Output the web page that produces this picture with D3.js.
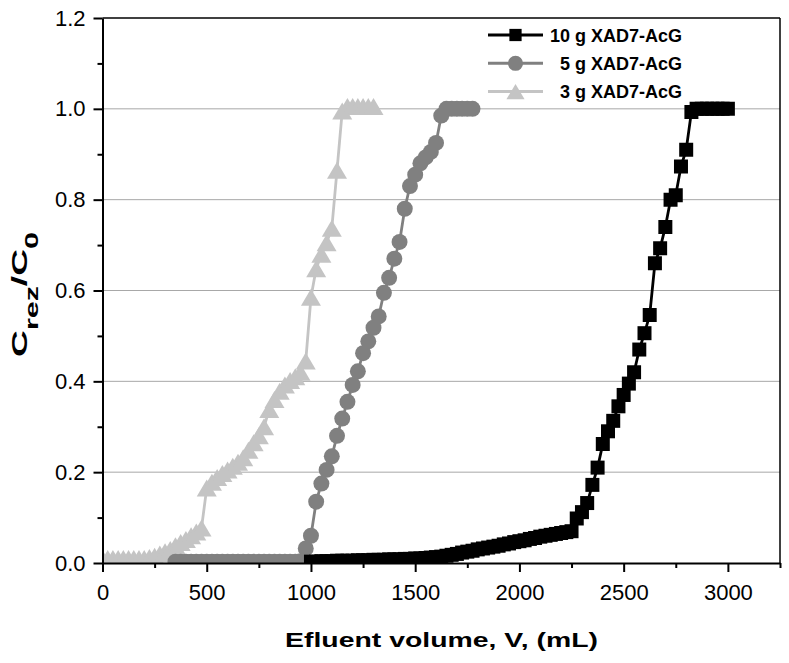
<!DOCTYPE html>
<html>
<head>
<meta charset="utf-8">
<script src="https://cdn.jsdelivr.net/npm/d3@7"></script>
<style>
  body { margin: 0; background: #fff; }
  svg { display: block; font-family: "Liberation Sans", Arial, sans-serif; }
</style>
</head>
<body>
<div id="app"></div>
<script>
// effluent volume (mL) and C/C0 for each resin load
const vol10 = [1000,1025,1050,1075,1100,1125,1150,1175,1200,1225,1250,1275,1300,1325,1350,1375,1400,1425,1450,1475,
  1500,1525,1550,1575,1600,1625,1650,1675,1700,1725,1750,1775,1800,1825,1850,1875,1900,1925,1950,1975,
  2000,2025,2050,2075,2100,2125,2150,2175,2200,2225,2250,2275,2300,2325,2350,2375,2400,2425,2450,2475,
  2500,2525,2550,2575,2600,2625,2650,2675,2700,2725,2750,2775,2800,2825,2850,2875,2900,2925,2950,2975,3000];
const c10 = [0.003,0.003,0.004,0.004,0.004,0.005,0.005,0.005,0.005,0.006,0.006,0.006,0.007,0.007,0.007,0.008,0.008,0.008,0.009,0.009,
  0.010,0.010,0.011,0.012,0.013,0.014,0.016,0.018,0.020,0.023,0.025,0.027,0.030,0.032,0.034,0.036,0.038,0.041,0.043,0.046,
  0.048,0.050,0.053,0.055,0.058,0.060,0.062,0.064,0.066,0.068,0.070,0.098,0.112,0.132,0.172,0.210,0.262,0.290,0.313,0.345,
  0.370,0.395,0.420,0.470,0.506,0.546,0.660,0.693,0.740,0.800,0.810,0.873,0.910,0.993,1.000,1.000,1.000,1.000,1.000,1.000,1.000];

const vol5 = [350,375,400,425,450,475,500,525,550,575,600,625,650,675,700,725,750,775,800,825,850,875,900,925,950,
  975,1000,1025,1050,1075,1100,1125,1150,1175,1200,1225,1250,1275,1300,1325,1350,1375,1400,1425,1450,
  1475,1500,1525,1550,1575,1600,1625,1650,1675,1700,1725,1750,1775];
const c5 = [0.003,0.003,0.003,0.003,0.003,0.003,0.003,0.003,0.003,0.003,0.003,0.003,0.003,0.003,0.003,0.003,0.003,0.003,0.003,0.003,0.003,0.003,0.003,0.003,0.004,
  0.032,0.060,0.135,0.175,0.205,0.235,0.280,0.318,0.355,0.392,0.422,0.462,0.488,0.518,0.543,0.595,0.628,0.670,0.707,0.780,
  0.830,0.855,0.880,0.893,0.905,0.925,0.985,1.000,1.000,1.000,1.000,1.000,1.000];

const vol3 = [0,25,50,75,100,125,150,175,200,225,250,275,300,325,350,375,400,425,450,475,
  500,525,550,575,600,625,650,675,700,725,750,775,800,825,850,875,900,925,950,975,
  1000,1025,1050,1075,1100,1125,1150,1175,1200,1225,1250,1275,1300];
const c3 = [0.010,0.010,0.010,0.010,0.010,0.010,0.010,0.010,0.010,0.012,0.015,0.020,0.025,0.030,0.038,0.045,0.052,0.060,0.068,0.077,
  0.165,0.178,0.188,0.197,0.205,0.213,0.222,0.232,0.248,0.265,0.280,0.300,0.338,0.360,0.378,0.392,0.402,0.410,0.420,0.445,
  0.585,0.648,0.680,0.705,0.737,0.865,0.995,1.005,1.005,1.005,1.005,1.005,1.005];

const seriesNames = ['10 g XAD7-AcG', '5 g XAD7-AcG', '3 g XAD7-AcG'];
const xTicks = [0,500,1000,1500,2000,2500,3000];
const xMinor = [250,750,1250,1750,2250,2750,3250];
const yTicks = [0,0.2,0.4,0.6,0.8,1.0,1.2];
const yMinor = [0.1,0.3,0.5,0.7,0.9,1.1];
const gridValues = [0.2,0.4,0.6,0.8,1.0];

let W = 789, H = 663;
let margin = { top: 18, left: 102.5, right: 9, bottom: 100 };
let w = W - margin.left - margin.right; let h = H - margin.top - margin.bottom;

// Origin-style triangle, centred on its bounding box (size = width^2)
const wideTriangle = {
  draw(ctx, size) {
    let s = Math.sqrt(size);
    let th = s * 0.85;
    ctx.moveTo(0, -th / 2);
    ctx.lineTo(s / 2, th / 2);
    ctx.lineTo(-s / 2, th / 2);
    ctx.closePath();
  }
};

let svg = d3.select('#app').append('svg')
  .attr('width', W)
  .attr('height', H);

let g = svg.append('g')
  .attr('transform', 'translate(' + margin.left + ',' + margin.top + ')');

let xScale = d3.scaleLinear().domain([0, 3250]).range([0, w]);
let yScale = d3.scaleLinear().domain([0, 1.2]).range([h, 0]);

// gridlines
g.selectAll('line.grid').data(gridValues).enter().append('line')
  .attr('class', 'grid')
  .attr('x1', 0).attr('x2', w)
  .attr('y1', d => yScale(d)).attr('y2', d => yScale(d))
  .attr('stroke', '#a8a8a8').attr('stroke-width', 1);

g.append('clipPath').attr('id', 'plot-clip')
  .append('rect').attr('width', w).attr('height', h);

let series = [
  { name: seriesNames[0], data: d3.zip(vol10, c10), color: '#000000', symbol: d3.symbolSquare, size: 196, legendSize: 150 },
  { name: seriesNames[1], data: d3.zip(vol5, c5), color: '#808080', symbol: d3.symbolCircle, size: 200, legendSize: 180 },
  { name: seriesNames[2], data: d3.zip(vol3, c3), color: '#c4c4c4', symbol: wideTriangle, size: 400, legendSize: 330 }
];

let ln = d3.line()
  .x(d => xScale(d[0]))
  .y(d => yScale(d[1]));

let plot = g.append('g').attr('clip-path', 'url(#plot-clip)');

// draw light series first so black sits on top
series.slice().reverse().forEach(s => {
  let sg = plot.append('g');
  sg.append('path')
    .attr('d', ln(s.data))
    .attr('fill', 'none')
    .attr('stroke', s.color)
    .attr('stroke-width', 2.8);
  sg.selectAll('path.mk').data(s.data).enter().append('path')
    .attr('class', 'mk')
    .attr('transform', d => 'translate(' + xScale(d[0]) + ',' + yScale(d[1]) + ')')
    .attr('d', d3.symbol().type(s.symbol).size(s.size))
    .attr('fill', s.color);
});

// axes
g.append('g')
  .attr('transform', 'translate(0,' + h + ')')
  .call(d3.axisBottom(xScale).tickValues(xTicks).tickSize(9).tickPadding(12).tickSizeOuter(0).tickFormat(d3.format('d')));
g.append('g')
  .attr('transform', 'translate(0,' + h + ')')
  .call(d3.axisBottom(xScale).tickValues(xMinor).tickSize(5).tickSizeOuter(0).tickFormat(''))
  .call(a => a.select('.domain').remove());

g.append('g')
  .call(d3.axisLeft(yScale).tickValues(yTicks).tickSize(9).tickPadding(8).tickSizeOuter(0).tickFormat(d3.format('.1f')));
g.append('g')
  .call(d3.axisLeft(yScale).tickValues(yMinor).tickSize(5).tickSizeOuter(0).tickFormat(''))
  .call(a => a.select('.domain').remove());

g.selectAll('.domain').attr('stroke', '#000').attr('stroke-width', 2);
g.selectAll('.tick line').attr('stroke', '#000').attr('stroke-width', 2);
g.selectAll('.tick text').attr('font-size', 22).attr('fill', '#000')
  .attr('font-family', '"Liberation Sans", Arial, sans-serif');

// top and right frame
g.append('line').attr('x1', 0).attr('x2', w).attr('y1', 0).attr('y2', 0)
  .attr('stroke', '#000').attr('stroke-width', 1.5);
g.append('line').attr('x1', w).attr('x2', w).attr('y1', 0).attr('y2', h)
  .attr('stroke', '#000').attr('stroke-width', 1.5);

// axis titles (stretched horizontally like the original)
let xt = svg.append('text')
  .attr('font-weight', 'bold').attr('font-size', 21)
  .attr('text-anchor', 'middle')
  .text('Efluent volume, V, (mL)');
let xlen = xt.node().getComputedTextLength();
xt.attr('transform', 'translate(441.5,646.5) scale(' + (313 / xlen) + ',1)');

let yt = svg.append('text')
  .attr('font-weight', 'bold').attr('font-size', 22)
  .attr('text-anchor', 'middle');
yt.append('tspan').text('C');
yt.append('tspan').attr('font-size', 18).attr('dy', 11).text('rez');
yt.append('tspan').attr('dy', -11).text('/C');
yt.append('tspan').attr('font-size', 18).attr('dy', 11).text('0');
let ylen = yt.node().getComputedTextLength();
yt.attr('transform', 'translate(27,294.5) rotate(-90) scale(' + (125 / ylen) + ',1)');

// legend
let legend = svg.append('g');
series.forEach((s, i) => {
  let y = 35 + i * 28.3;
  let lg = legend.append('g');
  lg.append('line')
    .attr('x1', 488).attr('x2', 543).attr('y1', y).attr('y2', y)
    .attr('stroke', s.color).attr('stroke-width', 3);
  lg.append('path')
    .attr('transform', 'translate(515.5,' + y + ')')
    .attr('d', d3.symbol().type(s.symbol).size(s.legendSize))
    .attr('fill', s.color);
  lg.append('text')
    .attr('x', 682).attr('y', y + 6.5)
    .attr('text-anchor', 'end')
    .attr('font-weight', 'bold').attr('font-size', 18)
    .attr('fill', '#000')
    .text(s.name);
});
</script>
</body>
</html>
